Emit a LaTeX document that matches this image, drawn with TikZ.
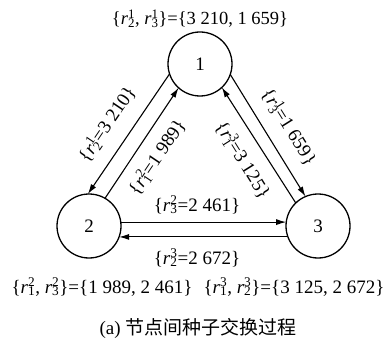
\documentclass[tikz,border=0pt]{standalone}
\usepackage{fontspec}
\setmainfont{Liberation Serif}
\newfontfamily\cjk{Noto Sans CJK SC}
\usetikzlibrary{arrows.meta}
\newcommand\rv[2]{\textit{r}\rlap{\textsuperscript{#2}}\textsubscript{#1}}
\begin{document}
\begin{tikzpicture}[x=1pt,y=-1pt,
  nd/.style={circle,draw,line width=1.3pt,minimum size=64pt,inner sep=0pt,outer sep=0pt,font=\fontsize{19}{21}\selectfont},
  ar/.style={line width=1.1pt,-{Latex[length=10pt,width=6pt]}},
  lb/.style={font=\fontsize{19}{21}\selectfont,inner sep=0pt}]
\useasboundingbox (0,0) rectangle (390,347);
\node[nd] (n1) at (200,64) {1};
\node[nd] (n2) at (89,226) {2};
\node[nd] (n3) at (318,226) {3};
% left pair
\draw[ar] (n1.198) -- (n2.92);
\draw[ar] (n2.60) -- (n1.228);
% right pair
\draw[ar] (n1.341) -- (n3.113);
\draw[ar] (n3.134) -- (n1.313);
% horizontal pair
\draw[ar] (n2.7) -- (n3.173);
\draw[ar] (n3.200) -- (n2.340);
% labels
\node[lb,font=\fontsize{18.5}{20}\selectfont] (t1) at (200,19) {\{\rv{2}{1}, \rv{3}{1}\}=\{3 210, 1 659\}};
\node[lb,rotate=56] (l1) at (107,124) {\{\rv{2}{1}=3 210\}};
\node[lb,rotate=56] (l2) at (157,157) {\{\rv{1}{2}=1 989\}};
\node[lb,rotate=-58] (l3) at (289,127) {\{\rv{3}{1}=1 659\}};
\node[lb,rotate=-58] (l4) at (243,160) {\{\rv{1}{3}=3 125\}};
\node[lb] (l5) at (197,205) {\{\rv{3}{2}=2 461\}};
\node[lb] (l6) at (197,258) {\{\rv{2}{3}=2 672\}};
\node[lb] (b1) at (102,287) {\{\rv{1}{2},\ \rv{3}{2}\}=\{1\ 989,\ 2\ 461\}};
\node[lb] (b2) at (294,287) {\{\rv{1}{3},\ \rv{2}{3}\}=\{3\ 125,\ 2\ 672\}};
\node[lb] (cap) at (198,328) {(a) {\cjk 节点间种子交换过程}};
\end{tikzpicture}
\end{document}
